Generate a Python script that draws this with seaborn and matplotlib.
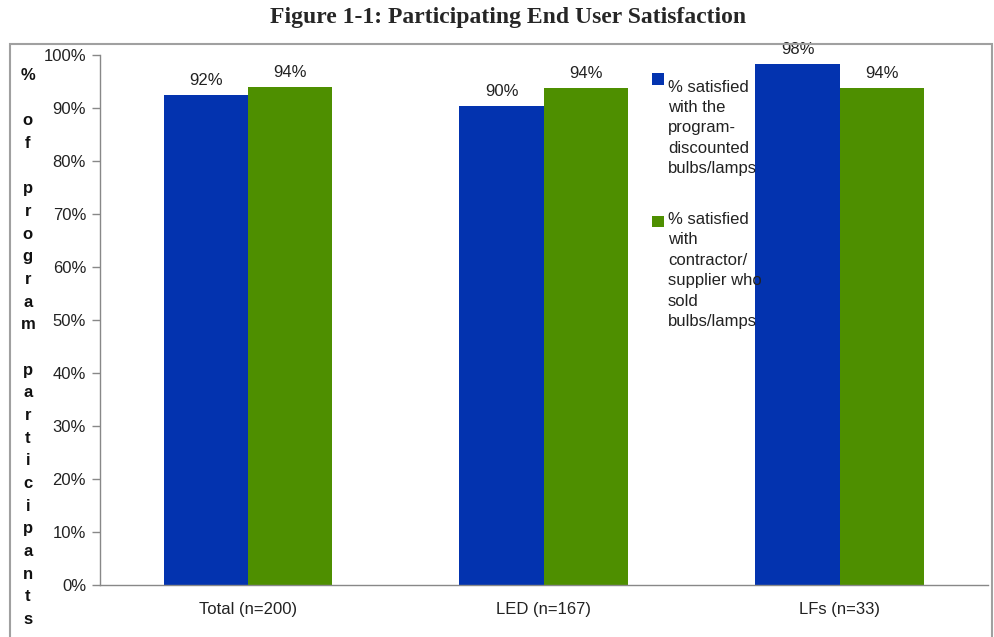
import numpy as np
import pandas as pd
import matplotlib
matplotlib.use("Agg")
import matplotlib.pyplot as plt
import seaborn as sns
from matplotlib.patches import Patch, Rectangle
from matplotlib.legend_handler import HandlerPatch

# Data
groups = ["Total (n=200)", "LED (n=167)", "LFs (n=33)"]
bulbs_satisfied = [92.4, 90.4, 98.3]
supplier_satisfied = [93.9, 93.8, 93.8]
series_labels = [
    "% satisfied\nwith the\nprogram-\ndiscounted\nbulbs/lamps",
    "% satisfied\nwith\ncontractor/\nsupplier who\nsold\nbulbs/lamps",
]
colors = ["#0333AF", "#4E8F00"]
y_ticks = [0, 10, 20, 30, 40, 50, 60, 70, 80, 90, 100]

df = pd.DataFrame({
    "group": groups * 2,
    "value": bulbs_satisfied + supplier_satisfied,
    "series": [series_labels[0]] * 3 + [series_labels[1]] * 3,
})

sns.set_style("white")
plt.rcParams["font.family"] = ["Liberation Sans", "DejaVu Sans"]

fig = plt.figure(figsize=(9.94, 6.37), dpi=100)
ax = fig.add_axes([0.1006, 0.0816, 0.893, 0.832])

sns.barplot(data=df, x="group", y="value", hue="series", palette=colors,
            width=0.57, gap=0, dodge=True, saturation=1, ax=ax, legend=False,
            edgecolor="none", linewidth=0)

for cont in ax.containers:
    ax.bar_label(cont, fmt="{:.0f}%", padding=5, fontsize=12, color="#222222")

ax.set_xlim(-0.5, 2.5)
ax.set_ylim(0, 100)
ax.set_yticks(y_ticks)
ax.set_yticklabels([f"{t}%" for t in y_ticks], fontsize=12, color="#222222")
ax.set_xticks(range(len(groups)))
ax.set_xticklabels(groups, fontsize=12, color="#222222")
ax.set_xticks([-0.5, 0.5, 1.5, 2.5], minor=True)
ax.tick_params(axis="x", which="major", length=0, pad=12)
ax.tick_params(axis="x", which="minor", length=6, width=1, color="#888888", direction="out")
ax.tick_params(axis="y", length=6, width=1, color="#888888", direction="out", left=True, pad=4)
ax.set_xlabel("")
ax.set_ylabel("")
for side in ["top", "right"]:
    ax.spines[side].set_visible(False)
for side in ["left", "bottom"]:
    ax.spines[side].set_color("#888888")
    ax.spines[side].set_linewidth(1)

LEG_LINESPACING = 1.45


# legend square sits next to the first line of each label
def top_square(legend, orig_handle, xdescent, ydescent, width, height, fontsize):
    return Rectangle((-xdescent, -ydescent + 2.0 * fontsize * LEG_LINESPACING * 1.02), width, height)


handles = [Patch(facecolor=c, edgecolor="none") for c in colors]
leg = ax.legend(handles, series_labels, loc="upper left", bbox_to_anchor=(0.605, 0.982),
                frameon=False, fontsize=12, handlelength=0.7, handleheight=0.7,
                handletextpad=0.25, labelspacing=2.15,
                handler_map={Patch: HandlerPatch(patch_func=top_square)})
for t in leg.get_texts():
    t.set_color("#222222")
    t.set_linespacing(LEG_LINESPACING)

# stacked y axis label
letters = ["%", "", "o", "f", "", "p", "r", "o", "g", "r", "a", "m", "",
           "p", "a", "r", "t", "i", "c", "i", "p", "a", "n", "t", "s"]
fig.text(0.028, 0.4545, "\n".join(letters), ha="center", va="center",
         multialignment="center", fontsize=12, fontweight="bold",
         linespacing=1.64, color="#111111")

fig.text(0.511, 0.972, "Figure 1-1: Participating End User Satisfaction",
         ha="center", va="center", fontsize=17, fontweight="bold",
         family="Liberation Serif")

# frame around the chart area
fig.patches.append(Rectangle((0.010, -0.02), 0.988, 0.951, transform=fig.transFigure,
                             fill=False, edgecolor="#a0a0a0", linewidth=1.5))

fig.savefig("out.png", dpi=100)
